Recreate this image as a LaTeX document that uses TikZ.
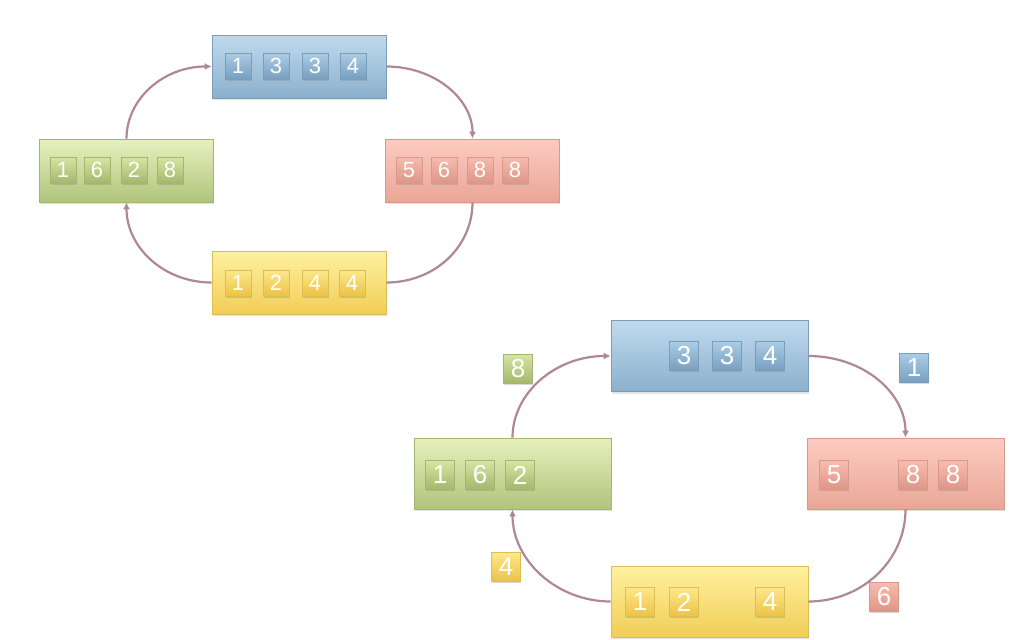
\documentclass[tikz,border=0pt]{standalone}
\usepackage{fontspec}
\setmainfont{Liberation Sans}
\usetikzlibrary{shadows,arrows.meta,calc}

% palette
\definecolor{bT}{HTML}{BFDAEE}\definecolor{bB}{HTML}{8BB0CD}\definecolor{bD}{HTML}{7C9DB8}
\definecolor{bcT}{HTML}{ABCCE5}\definecolor{bcB}{HTML}{779FBF}
\definecolor{gT}{HTML}{E6F0BE}\definecolor{gB}{HTML}{B0C47B}\definecolor{gD}{HTML}{A2B672}
\definecolor{gcT}{HTML}{D6E5A3}\definecolor{gcB}{HTML}{A3B86B}
\definecolor{rT}{HTML}{FDCBC0}\definecolor{rB}{HTML}{E9A697}\definecolor{rD}{HTML}{D6998C}
\definecolor{rcT}{HTML}{F7BBAD}\definecolor{rcB}{HTML}{DE9687}
\definecolor{yT}{HTML}{FFF1A0}\definecolor{yB}{HTML}{F1CD56}\definecolor{yD}{HTML}{DDBD57}
\definecolor{ycT}{HTML}{FDE88A}\definecolor{ycB}{HTML}{ECC246}
\definecolor{arrowc}{HTML}{B08797}

\tikzset{
  box/.style={rectangle, inner sep=0pt, line width=0.6pt,
    drop shadow={shadow xshift=0.6pt, shadow yshift=-2pt, opacity=0.22}},
  smallbox/.style={box, minimum width=174pt, minimum height=63pt},
  largebox/.style={box, minimum width=197pt, minimum height=71pt},
  cell/.style={rectangle, inner sep=0pt, line width=0.6pt, text=white,
    drop shadow={shadow xshift=0.6pt, shadow yshift=-1.8pt, opacity=0.3}},
  smallcell/.style={cell, minimum size=26pt, font=\fontsize{22}{22}\selectfont},
  largecell/.style={cell, minimum size=29pt, font=\fontsize{26}{26}\selectfont},
  blueF/.style={top color=bT, bottom color=bB, draw=bD},
  greenF/.style={top color=gT, bottom color=gB, draw=gD},
  redF/.style={top color=rT, bottom color=rB, draw=rD},
  yellowF/.style={top color=yT, bottom color=yB, draw=yD},
  blueC/.style={top color=bcT, bottom color=bcB, draw=bD},
  greenC/.style={top color=gcT, bottom color=gcB, draw=gD},
  redC/.style={top color=rcT, bottom color=rcB, draw=rD},
  yellowC/.style={top color=ycT, bottom color=ycB, draw=yD},
  flow/.style={draw=arrowc, line width=2.2pt},
  flowtip/.style={flow, -{Latex[length=7pt,width=7pt]}},
}

\begin{document}
\begin{tikzpicture}[x=1pt,y=-1pt]
\useasboundingbox (0,0) rectangle (1018,640);

% ---------- upper cycle ----------
\node[smallbox, blueF]   (b1) at (299,66.5)   {};
\node[smallbox, greenF]  (g1) at (126.5,170.5) {};
\node[smallbox, redF]    (r1) at (472.5,170.5) {};
\node[smallbox, yellowF] (y1) at (299,282.5)  {};

\node[smallcell, blueC] (b1a) at (238,66) {1};
\node[smallcell, blueC] (b1b) at (276,66) {3};
\node[smallcell, blueC] (b1c) at (315,66) {3};
\node[smallcell, blueC] (b1d) at (353,66) {4};

\node[smallcell, greenC] (g1a) at (63,170) {1};
\node[smallcell, greenC] (g1b) at (97,170) {6};
\node[smallcell, greenC] (g1c) at (134,170) {2};
\node[smallcell, greenC] (g1d) at (170,170) {8};

\node[smallcell, redC] (r1a) at (409,170) {5};
\node[smallcell, redC] (r1b) at (444,170) {6};
\node[smallcell, redC] (r1c) at (480,170) {8};
\node[smallcell, redC] (r1d) at (515,170) {8};

\node[smallcell, yellowC] (y1a) at (238,283) {1};
\node[smallcell, yellowC] (y1b) at (276,283) {2};
\node[smallcell, yellowC] (y1c) at (315,283) {4};
\node[smallcell, yellowC] (y1d) at (352,283) {4};

\draw[flowtip] (g1.north) .. controls ($(g1.north)+(0,-40)$) and ($(b1.west)+(-48,0)$) .. (b1.west);
\draw[flowtip] (b1.east) .. controls ($(b1.east)+(48,0)$) and ($(r1.north)+(0,-40)$) .. (r1.north);
\draw[flow]    (r1.south) .. controls ($(r1.south)+(0,45)$) and ($(y1.east)+(48,0)$) .. (y1.east);
\draw[flowtip] (y1.west) .. controls ($(y1.west)+(-48,0)$) and ($(g1.south)+(0,45)$) .. (g1.south);

% ---------- lower cycle ----------
\node[largebox, blueF]   (b2) at (709.5,356)   {};
\node[largebox, greenF]  (g2) at (512.5,473.5) {};
\node[largebox, redF]    (r2) at (905.5,473.5) {};
\node[largebox, yellowF] (y2) at (709.5,601.5) {};

\node[largecell, blueC] (b2a) at (684,356) {3};
\node[largecell, blueC] (b2b) at (727,356) {3};
\node[largecell, blueC] (b2c) at (770,356) {4};

\node[largecell, greenC] (g2a) at (440,475) {1};
\node[largecell, greenC] (g2b) at (480,475) {6};
\node[largecell, greenC] (g2c) at (520,475) {2};

\node[largecell, redC] (r2a) at (834,475) {5};
\node[largecell, redC] (r2b) at (913,475) {8};
\node[largecell, redC] (r2c) at (953,475) {8};

\node[largecell, yellowC] (y2a) at (640,602) {1};
\node[largecell, yellowC] (y2b) at (684,602) {2};
\node[largecell, yellowC] (y2c) at (770,602) {4};

% values in transit
\node[largecell, greenC]  (m8) at (518,369) {8};
\node[largecell, blueC]   (m1) at (914,368) {1};
\node[largecell, yellowC] (m4) at (506,567) {4};
\node[largecell, redC]    (m6) at (884,597) {6};

\draw[flowtip] (g2.north) .. controls ($(g2.north)+(0,-45)$) and ($(b2.west)+(-55,0)$) .. (b2.west);
\draw[flowtip] (b2.east) .. controls ($(b2.east)+(55,0)$) and ($(r2.north)+(0,-45)$) .. (r2.north);
\draw[flow]    (r2.south) .. controls ($(r2.south)+(0,51)$) and ($(y2.east)+(54,0)$) .. (y2.east);
\draw[flowtip] (y2.west) .. controls ($(y2.west)+(-54,0)$) and ($(g2.south)+(0,51)$) .. (g2.south);
\end{tikzpicture}
\end{document}
